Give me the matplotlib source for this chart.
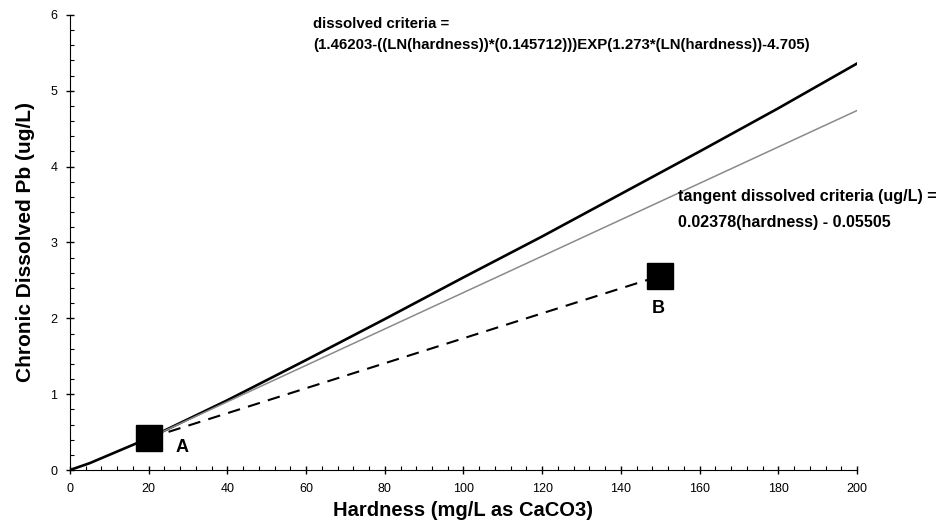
import numpy as np
import matplotlib.pyplot as plt
from matplotlib.ticker import MultipleLocator

plt.rcParams['font.family'] = ['Liberation Sans', 'DejaVu Sans']

# dissolved criteria curve
hardness = [0, 5, 10, 20, 40, 60, 80, 100, 120, 140, 160, 180, 200]
dissolved = [0, 0.09, 0.2, 0.42, 0.92, 1.45, 1.99, 2.54, 3.08, 3.64, 4.2, 4.77, 5.36]

# tangent line
tangent_x = [20, 200]
tangent_y = [0.42, 4.74]

# points A and B
point_x = [20, 150]
point_y = [0.42, 2.56]
point_labels = ['A', 'B']

fig = plt.figure(figsize=(9.43, 5.22), dpi=100)
ax = fig.add_axes([0.0742, 0.0996, 0.8346, 0.8717])

ax.plot(hardness, dissolved, color='black', linewidth=1.9)
ax.plot(tangent_x, tangent_y, color='#8a8a8a', linewidth=1.1)
ax.plot(point_x, point_y, color='black', linestyle=(0, (6, 4)), linewidth=1.5,
        marker='s', markersize=19, markerfacecolor='black')

ax.text(28.5, 0.30, point_labels[0], fontsize=13, fontweight='bold', ha='center', va='center')
ax.text(149.5, 2.13, point_labels[1], fontsize=13, fontweight='bold', ha='center', va='center')

ax.text(61.8, 5.88, 'dissolved criteria =', fontsize=10.8, fontweight='bold', va='center')
ax.text(61.8, 5.60, '(1.46203-((LN(hardness))*(0.145712)))EXP(1.273*(LN(hardness))-4.705)',
        fontsize=10.8, fontweight='bold', va='center')
ax.text(154.5, 3.60, 'tangent dissolved criteria (ug/L) =', fontsize=11.6, fontweight='bold', va='center')
ax.text(154.5, 3.27, '0.02378(hardness) - 0.05505', fontsize=11.6, fontweight='bold', va='center')

ax.set_xlim(0, 200)
ax.set_ylim(0, 6)
ax.xaxis.set_major_locator(MultipleLocator(20))
ax.xaxis.set_minor_locator(MultipleLocator(4))
ax.yaxis.set_major_locator(MultipleLocator(1))
ax.yaxis.set_minor_locator(MultipleLocator(0.2))
ax.tick_params(which='major', direction='inout', length=6, width=1, labelsize=9, pad=6)
ax.tick_params(which='minor', direction='in', length=3, width=0.8)
ax.spines['top'].set_visible(False)
ax.spines['right'].set_visible(False)

ax.set_xlabel('Hardness (mg/L as CaCO3)', fontsize=14.5, fontweight='bold', labelpad=5)
ax.set_ylabel('Chronic Dissolved Pb (ug/L)', fontsize=15, fontweight='bold', labelpad=11)

fig.savefig('out.png', dpi=100)
